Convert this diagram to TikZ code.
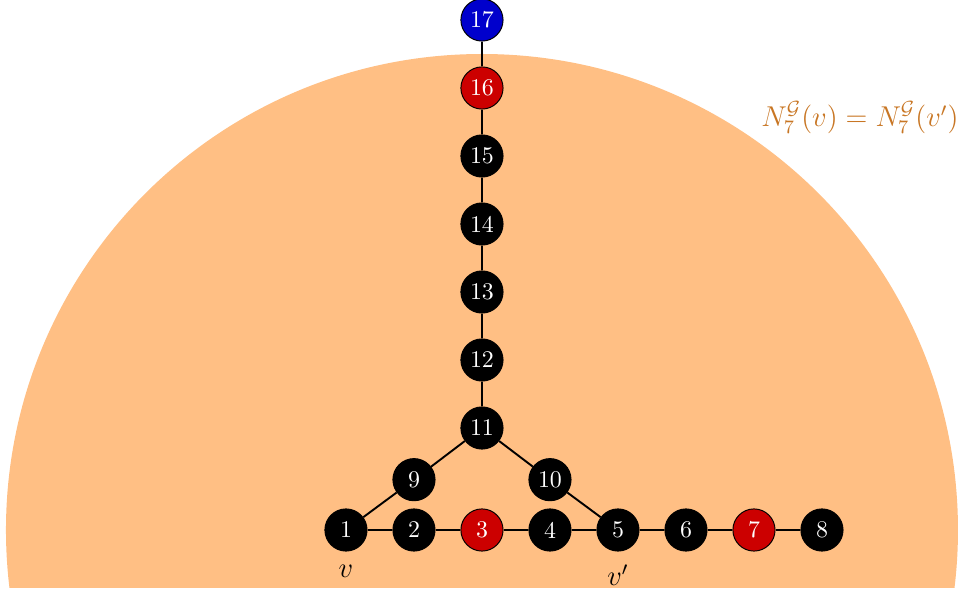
\documentclass[tikz,border=0pt]{standalone}
\usepackage{tikz}
\usetikzlibrary{positioning,calc}
\definecolor{NbhdFill}{HTML}{FFBF84}
\definecolor{NbhdText}{HTML}{C87624}
\definecolor{HitRed}{HTML}{CC0000}
\definecolor{FarBlue}{HTML}{0000CC}

\begin{document}
\begin{tikzpicture}[
  vtx/.style={circle,draw=black,fill=black,text=white,inner sep=0pt,minimum size=0.62cm},
  hit/.style={vtx,fill=HitRed},
  far/.style={vtx,fill=FarBlue},
  edge/.style={thick,black}]
\useasboundingbox (-5.088,-0.941) rectangle (9.074,7.794);
% neighbourhood of radius 7
\begin{scope}
  \clip (-5.1,-0.85) rectangle (9.1,7.8);
  \fill[NbhdFill] (2,0) circle (7);
\end{scope}
\node[NbhdText,anchor=east,font=\large,inner sep=1pt] (lbl) at (9.05,6.06) {$N_7^{\mathcal{G}}(v) = N_7^{\mathcal{G}}(v')$};
% bottom path
\foreach \i/\s in {1/vtx,2/vtx,3/hit,4/vtx,5/vtx,6/vtx,7/hit,8/vtx} {
  \node[\s] (n\i) at ({\i-1},0) {\i};
}
\node[vtx] (n9) at (1,0.74) {9};
\node[vtx] (n10) at (3,0.74) {10};
% vertical path
\foreach \i/\s in {11/vtx,12/vtx,13/vtx,14/vtx,15/vtx,16/hit,17/far} {
  \node[\s] (n\i) at (2,{\i-11+1.5}) {\i};
}
\foreach \a/\b in {1/2,2/3,3/4,4/5,5/6,6/7,7/8,1/9,9/11,11/10,10/5,11/12,12/13,13/14,14/15,15/16,16/17} {
  \draw[edge] (n\a) -- (n\b);
}
\node[below=0.07cm of n1,font=\large] (lv) {$v$};
\node[below=0.07cm of n5,font=\large] (lvp) {$v'$};
\end{tikzpicture}
\end{document}
